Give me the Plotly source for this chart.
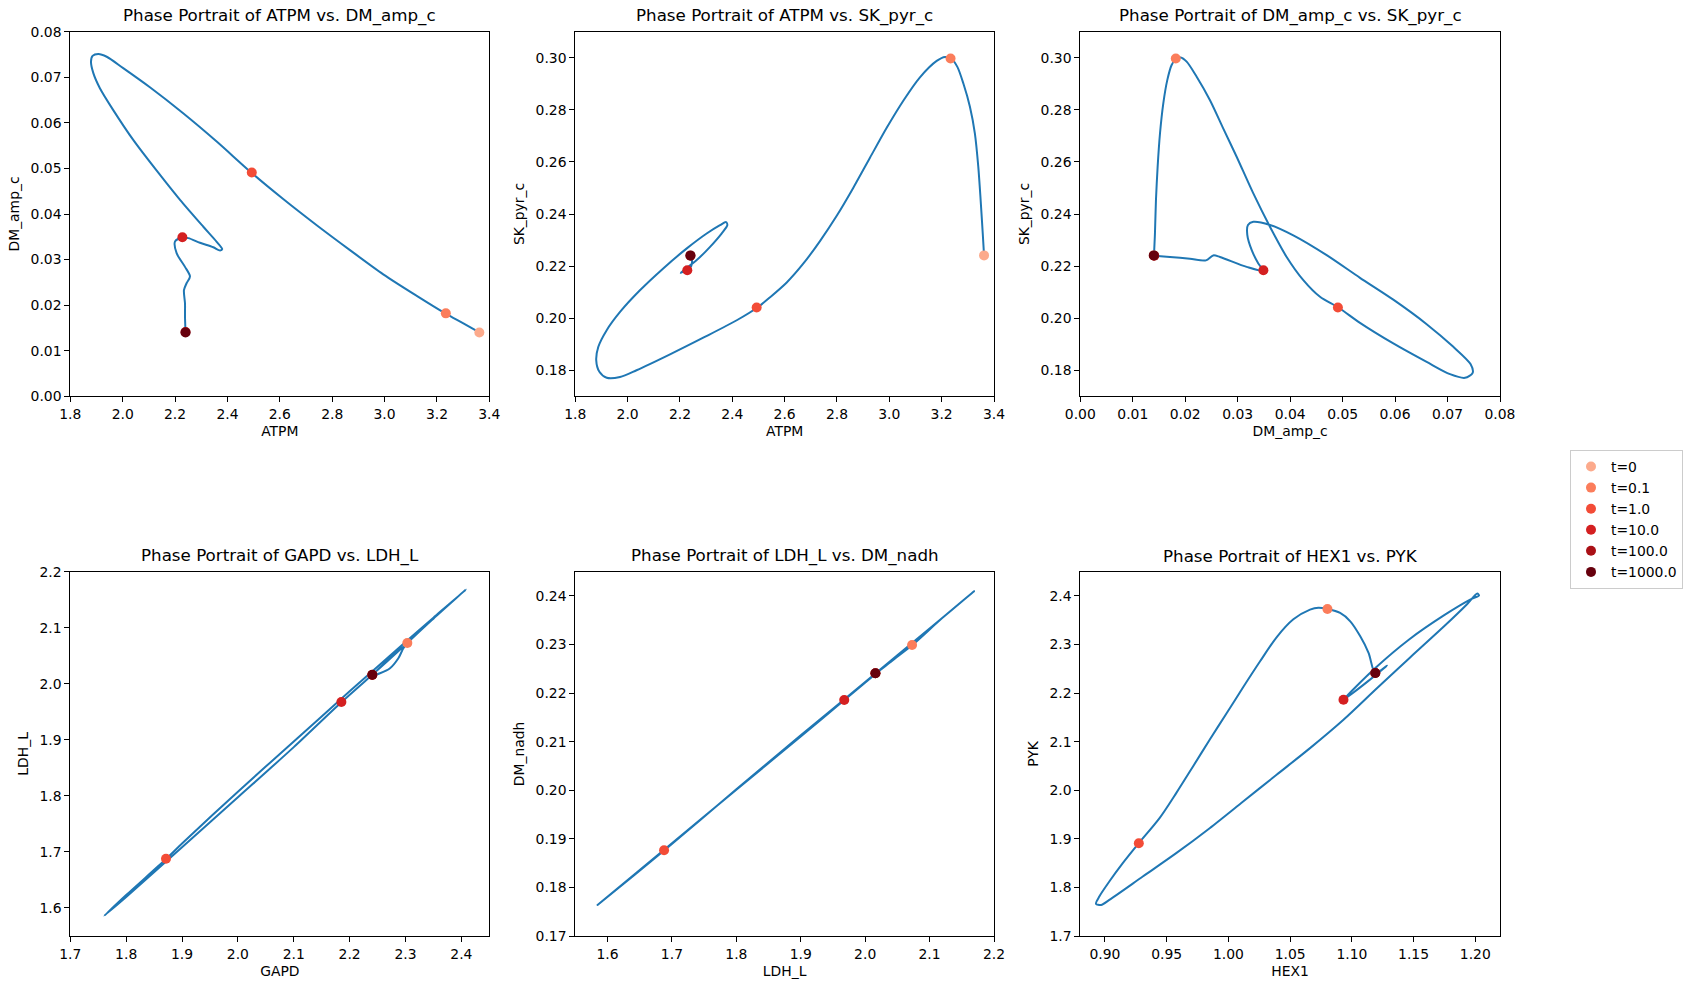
import plotly.graph_objects as go

# ---------------- data ----------------
times = ["t=0", "t=0.1", "t=1.0", "t=10.0", "t=100.0", "t=1000.0"]
colors = ["#fcaa8c", "#fb7d5b", "#f34c37", "#d42021", "#aa1016", "#67000d"]

# values of each variable at the marked times
atpm_marks = [3.362, 3.234, 2.493, 2.228, 2.240, 2.240]
dm_amp_marks = [0.0140, 0.0182, 0.0491, 0.0349, 0.0141, 0.0140]
sk_pyr_marks = [0.2241, 0.2997, 0.2041, 0.2184, 0.2240, 0.2241]
gapd_marks = [2.2407, 2.3033, 1.8713, 2.1852, 2.2405, 2.2407]
ldh_marks = [2.0160, 2.0728, 1.6878, 1.9675, 2.0158, 2.0160]
dm_nadh_marks = [0.2241, 0.2299, 0.18765, 0.21857, 0.2241, 0.2241]
hex1_marks = [1.1190, 1.0802, 0.9274, 1.0932, 1.1190, 1.1190]
pyk_marks = [2.2413, 2.3732, 1.8911, 2.1864, 2.2413, 2.2413]

# trajectory: ATPM vs DM_amp_c
p1_atpm = [3.362, 3.301, 3.232, 3.123, 2.995, 2.868, 2.741, 2.613, 2.491, 2.359,
           2.231, 2.104, 2.002, 1.939, 1.907, 1.885, 1.879, 1.888, 1.913, 1.964,
           2.041, 2.130, 2.219, 2.308, 2.359, 2.380, 2.372, 2.346, 2.295, 2.251,
           2.228, 2.200, 2.206, 2.238, 2.257, 2.244, 2.234, 2.238, 2.238, 2.240]
p1_dm_amp = [0.0140, 0.0160, 0.0182, 0.02205, 0.02677, 0.03208, 0.03754, 0.04329, 0.0491, 0.0559,
             0.0621, 0.0678, 0.0720, 0.0745, 0.0751, 0.0747, 0.0734, 0.0709, 0.0676, 0.0628,
             0.0562, 0.0495, 0.0431, 0.0372, 0.0339, 0.0323, 0.0320, 0.0327, 0.0337, 0.0347,
             0.0349, 0.0340, 0.0314, 0.0284, 0.0263, 0.0248, 0.0233, 0.0204, 0.0175, 0.0141]

# trajectory: ATPM vs SK_pyr_c
p2_atpm = [3.362, 3.357, 3.349, 3.340, 3.327, 3.308, 3.283, 3.260, 3.237, 3.213,
           3.181, 3.117, 3.054, 2.990, 2.926, 2.862, 2.799, 2.735, 2.671, 2.608,
           2.544, 2.496, 2.417, 2.289, 2.162, 2.034, 1.971, 1.920, 1.892, 1.880,
           1.888, 1.920, 1.971, 2.047, 2.136, 2.225, 2.302, 2.353, 2.376, 2.381,
           2.359, 2.315, 2.264, 2.219, 2.203, 2.219, 2.229, 2.243, 2.246, 2.240]
p2_sk_pyr = [0.2241, 0.2325, 0.2453, 0.2581, 0.2709, 0.2812, 0.2901, 0.2965, 0.2996, 0.3003,
             0.2988, 0.2925, 0.2836, 0.2731, 0.2616, 0.2500, 0.2393, 0.2296, 0.2209, 0.2137,
             0.2080, 0.2041, 0.1992, 0.1925, 0.1861, 0.1800, 0.1774, 0.1771, 0.1794, 0.1838,
             0.1890, 0.1954, 0.2024, 0.2107, 0.2191, 0.2267, 0.2325, 0.2357, 0.2369, 0.2357,
             0.2325, 0.2274, 0.2223, 0.2187, 0.2174, 0.2182, 0.2184, 0.2200, 0.2222, 0.2241]

# trajectory: DM_amp_c vs SK_pyr_c
p3_dm_amp = [0.01404, 0.01423, 0.01442, 0.01474, 0.01519, 0.01582, 0.01658, 0.01741, 0.01824, 0.01913,
             0.02027, 0.02218, 0.02472, 0.02726, 0.02980, 0.03298, 0.03615, 0.03933, 0.04251, 0.04569,
             0.04918, 0.05331, 0.05966, 0.06602, 0.07047, 0.07333, 0.07479, 0.07441, 0.07110, 0.06602,
             0.05966, 0.05331, 0.04696, 0.04060, 0.03615, 0.03298, 0.03196, 0.03183, 0.03266, 0.03393,
             0.03488, 0.03171, 0.02662, 0.02535, 0.02395, 0.02090, 0.01709, 0.01411]
p3_sk_pyr = [0.2241, 0.2325, 0.2453, 0.2581, 0.2709, 0.2825, 0.2914, 0.2972, 0.2996, 0.3001,
             0.2985, 0.2927, 0.2837, 0.2728, 0.2620, 0.2479, 0.2351, 0.2235, 0.2146, 0.2082,
             0.2041, 0.1982, 0.1903, 0.1832, 0.1785, 0.1771, 0.1790, 0.1823, 0.1890, 0.1977,
             0.2071, 0.2155, 0.2242, 0.2318, 0.2358, 0.2370, 0.2358, 0.2320, 0.2262, 0.2210,
             0.2182, 0.2197, 0.2235, 0.2241, 0.2222, 0.2228, 0.2235, 0.2240]

# trajectory: GAPD vs LDH_L
p4_gapd = [2.2407, 2.2544, 2.2723, 2.2872, 2.2962, 2.3033, 2.3500, 2.4084, 2.3500, 2.3000,
           2.2000, 2.1000, 2.0000, 1.9000, 1.8713, 1.8000, 1.7609, 1.8000, 1.9000, 2.0000,
           2.1000, 2.1852, 2.2500, 2.2900, 2.2980, 2.2850, 2.2407]
p4_ldh = [2.0152, 2.0188, 2.0277, 2.0455, 2.0634, 2.0723, 2.1162, 2.1685, 2.1180, 2.0745,
          1.9865, 1.8970, 1.8075, 1.7150, 1.6873, 1.6230, 1.5863, 1.6195, 1.7083, 1.7975,
          1.8870, 1.9671, 2.0245, 2.0605, 2.0680, 2.0570, 2.0152]

# trajectory: LDH_L vs DM_nadh
p5_ldh = [2.0174, 2.0450, 2.0733, 2.1200, 2.1690, 2.1000, 2.0000, 1.9000, 1.8000, 1.6884,
          1.5845, 1.7000, 1.8000, 1.9000, 1.9678, 2.0300, 2.0600, 2.0500, 2.0174]
p5_dm_nadh = [0.22413, 0.2270, 0.2299, 0.2355, 0.24096, 0.2333, 0.2223, 0.2113, 0.2002, 0.18765,
              0.17639, 0.1891, 0.2001, 0.2111, 0.21857, 0.2255, 0.2288, 0.2277, 0.22413]

# trajectory: HEX1 vs PYK
p6_hex1 = [1.1190, 1.1136, 1.1068, 1.0987, 1.0905, 1.0802, 1.0729, 1.0661, 1.0526, 1.0390,
           1.0255, 1.0119, 0.9984, 0.9848, 0.9713, 0.9577, 0.9442, 0.9274, 0.9144, 0.9035,
           0.8954, 0.8927, 0.8968, 0.9035, 0.9306, 0.9577, 0.9848, 1.0119, 1.0390, 1.0661,
           1.0932, 1.1203, 1.1474, 1.1745, 1.1935, 1.2016, 1.2030, 1.1962, 1.1745, 1.1461,
           1.1190, 1.0932, 1.1285, 1.1190]
p6_pyk = [2.2413, 2.2826, 2.3169, 2.3478, 2.3650, 2.3732, 2.3760, 2.3720, 2.3520, 2.3150,
          2.2650, 2.2120, 2.1580, 2.1040, 2.0490, 1.9941, 1.9426, 1.8911, 1.8499, 1.8121,
          1.7812, 1.7661, 1.7640, 1.7743, 1.8224, 1.8705, 1.9220, 1.9769, 2.0319, 2.0868,
          2.1452, 2.2100, 2.2740, 2.3370, 2.3835, 2.4050, 2.4010, 2.3930, 2.3600, 2.3100,
          2.2517, 2.1864, 2.2565, 2.2413]

# ---------------- layout helpers ----------------
W, H = 1694, 989
FONT = "DejaVu Sans"
col_px = [(70.3, 489.3), (575.3, 994.0), (1080.3, 1500.0)]
row_px = [(31.7, 396.3), (571.7, 936.0)]

panels = [
    dict(x=p1_atpm, y=p1_dm_amp, mx=atpm_marks, my=dm_amp_marks, xl="ATPM", yl="DM_amp_c",
         xr=[1.8, 3.4], yr=[0.0, 0.08], xd=0.2, yd=0.01, xf=".1f", yf=".2f", x0=1.8, y0=0.0),
    dict(x=p2_atpm, y=p2_sk_pyr, mx=atpm_marks, my=sk_pyr_marks, xl="ATPM", yl="SK_pyr_c",
         xr=[1.8, 3.4], yr=[0.17, 0.31], xd=0.2, yd=0.02, xf=".1f", yf=".2f", x0=1.8, y0=0.18),
    dict(x=p3_dm_amp, y=p3_sk_pyr, mx=dm_amp_marks, my=sk_pyr_marks, xl="DM_amp_c", yl="SK_pyr_c",
         xr=[0.0, 0.08], yr=[0.17, 0.31], xd=0.01, yd=0.02, xf=".2f", yf=".2f", x0=0.0, y0=0.18),
    dict(x=p4_gapd, y=p4_ldh, mx=gapd_marks, my=ldh_marks, xl="GAPD", yl="LDH_L",
         xr=[1.7, 2.45], yr=[1.55, 2.2], xd=0.1, yd=0.1, xf=".1f", yf=".1f", x0=1.7, y0=1.6),
    dict(x=p5_ldh, y=p5_dm_nadh, mx=ldh_marks, my=dm_nadh_marks, xl="LDH_L", yl="DM_nadh",
         xr=[1.55, 2.2], yr=[0.17, 0.245], xd=0.1, yd=0.01, xf=".1f", yf=".2f", x0=1.6, y0=0.17),
    dict(x=p6_hex1, y=p6_pyk, mx=hex1_marks, my=pyk_marks, xl="HEX1", yl="PYK",
         xr=[0.88, 1.22], yr=[1.7, 2.45], xd=0.05, yd=0.1, xf=".2f", yf=".1f", x0=0.9, y0=1.7),
]

fig = go.Figure()
annotations = []
layout_axes = {}

for i, p in enumerate(panels):
    r, c = divmod(i, 3)
    n = "" if i == 0 else str(i + 1)
    xa, ya = "x" + n, "y" + n
    xdom = [col_px[c][0] / W, col_px[c][1] / W]
    ydom = [1 - row_px[r][1] / H, 1 - row_px[r][0] / H]

    fig.add_trace(go.Scatter(x=p["x"], y=p["y"], mode="lines",
                             line=dict(color="#1f77b4", width=2, shape="spline", smoothing=0.8),
                             xaxis=xa, yaxis=ya, showlegend=False, hoverinfo="skip"))
    for k, t in enumerate(times):
        fig.add_trace(go.Scatter(x=[p["mx"][k]], y=[p["my"][k]], mode="markers",
                                 marker=dict(color=colors[k], size=10),
                                 name=t, legendgroup=t, showlegend=(i == 0),
                                 xaxis=xa, yaxis=ya))

    common = dict(showline=True, mirror=True, linecolor="black", linewidth=1,
                  ticks="outside", ticklen=5, tickwidth=1, tickcolor="black",
                  showgrid=False, zeroline=False, automargin=False,
                  tickfont=dict(family=FONT, size=13.9, color="black"))
    layout_axes["xaxis" + n] = dict(common, domain=xdom, range=p["xr"], anchor=ya,
                                    tick0=p["x0"], dtick=p["xd"], tickformat=p["xf"],
                                    title=dict(text=p["xl"], standoff=5,
                                               font=dict(family=FONT, size=13.9, color="black")))
    layout_axes["yaxis" + n] = dict(common, domain=ydom, range=p["yr"], anchor=xa,
                                    tick0=p["y0"], dtick=p["yd"], tickformat=p["yf"],
                                    title=dict(text=p["yl"], standoff=7,
                                               font=dict(family=FONT, size=13.9, color="black")))
    annotations.append(dict(text=f"Phase Portrait of {p['xl']} vs. {p['yl']}",
                            x=(xdom[0] + xdom[1]) / 2, y=ydom[1], xref="paper", yref="paper",
                            xanchor="center", yanchor="bottom", yshift=4, showarrow=False,
                            font=dict(family=FONT, size=16.7, color="black")))

fig.update_layout(
    width=W, height=H,
    margin=dict(l=0, r=0, t=0, b=0, autoexpand=False),
    paper_bgcolor="white", plot_bgcolor="white",
    font=dict(family=FONT, color="black"),
    annotations=annotations,
    legend=dict(x=1570 / W, y=1 - 450 / H, xanchor="left", yanchor="top",
                bgcolor="white", bordercolor="#cccccc", borderwidth=1, tracegroupgap=0,
                font=dict(family=FONT, size=13.9, color="black")),
    **layout_axes,
)

fig.write_html("out.html")
